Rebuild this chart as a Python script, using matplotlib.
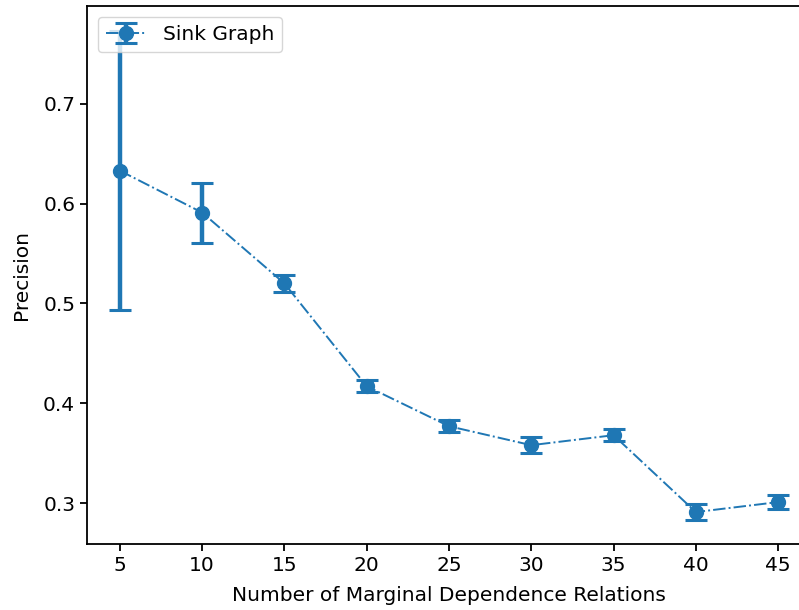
import matplotlib
matplotlib.use("Agg")
import matplotlib.pyplot as plt

# Precision vs. number of marginal dependence relations
relations = [5, 10, 15, 20, 25, 30, 35, 40, 45]
precision_mean = [0.633, 0.591, 0.520, 0.417, 0.377, 0.358, 0.368, 0.291, 0.301]
precision_err = [0.140, 0.030, 0.009, 0.006, 0.006, 0.008, 0.006, 0.008, 0.007]

plt.rcParams["font.family"] = "DejaVu Sans"
plt.rcParams["font.size"] = 14.5

fig = plt.figure(figsize=(7.99, 6.10), dpi=100)
ax = fig.add_axes([87 / 799, 66 / 610, (811 - 87) / 799, (544 - 6) / 610])

ax.errorbar(relations, precision_mean, yerr=precision_err,
            fmt="o", linestyle="-.", color="#1f77b4",
            linewidth=1.4, markersize=10,
            elinewidth=3.2, capsize=8, capthick=2.2,
            label="Sink Graph")

ax.set_xlim(3, 47)
ax.set_ylim(0.259, 0.798)
ax.set_xticks(relations)
ax.set_yticks([0.3, 0.4, 0.5, 0.6, 0.7])
ax.set_xlabel("Number of Marginal Dependence Relations", labelpad=8)
ax.set_ylabel("Precision", labelpad=9)
for s in ax.spines.values():
    s.set_linewidth(1.3)
ax.tick_params(width=1.3, length=5)
ax.legend(loc="upper left", borderaxespad=0.55)

fig.savefig("out.png", dpi=100)
